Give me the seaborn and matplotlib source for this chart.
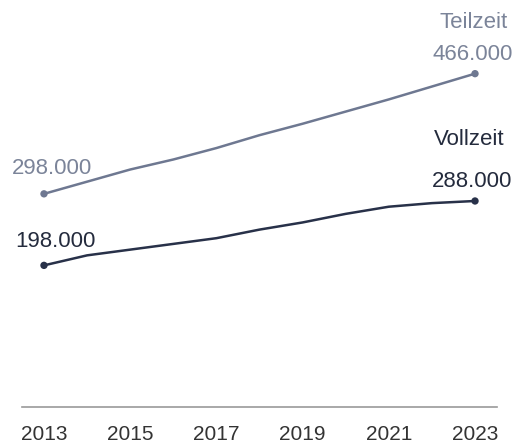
import pandas as pd
import matplotlib
matplotlib.use('Agg')
import matplotlib.pyplot as plt
import seaborn as sns

sns.set_theme(style="white")
plt.rcParams['font.family'] = ['Liberation Sans', 'DejaVu Sans']

# Data (employees)
years = [2013, 2014, 2015, 2016, 2017, 2018, 2019, 2020, 2021, 2022, 2023]
teilzeit = [298000, 315000, 332000, 346000, 362000, 380000, 396000, 413000, 430000, 448000, 466000]
vollzeit = [198000, 212000, 220000, 228000, 236000, 248000, 258000, 270000, 280000, 285000, 288000]
series_names = ['Teilzeit', 'Vollzeit']
tick_years = [2013, 2015, 2017, 2019, 2021, 2023]

LINE_COLORS = {'Teilzeit': '#6e7891', 'Vollzeit': '#283149'}
TEXT_COLORS = {'Teilzeit': '#7b8499', 'Vollzeit': '#242b3d'}

df = pd.DataFrame({
    'Jahr': years * 2,
    'Beschaeftigte': teilzeit + vollzeit,
    'Art': [series_names[0]] * len(years) + [series_names[1]] * len(years),
})

fig = plt.figure(figsize=(5.14, 4.43), dpi=100)
ax = fig.add_axes([22 / 514, 36 / 443, 475 / 514, 397 / 443])

sns.lineplot(data=df, x='Jahr', y='Beschaeftigte', hue='Art', palette=LINE_COLORS,
             linewidth=1.8, legend=False, ax=ax)

ends = df[df['Jahr'].isin([years[0], years[-1]])]
sns.scatterplot(data=ends, x='Jahr', y='Beschaeftigte', hue='Art', palette=LINE_COLORS,
                s=28, edgecolor='none', legend=False, ax=ax, zorder=3)


def fmt(v):
    return f"{v:,}".replace(',', '.')


# value labels at both ends, series names at the right end
label_offsets = {
    'Teilzeit': {'start': (6, 18), 'end': (-2, 14), 'name': (-1, 37)},
    'Vollzeit': {'start': (8, 17), 'end': (-2, 14), 'name': (-4, 44)},
}
for name, vals in zip(series_names, [teilzeit, vollzeit]):
    off = label_offsets[name]
    ax.annotate(fmt(vals[0]), (years[0], vals[0]), xytext=off['start'], textcoords='offset points',
                ha='center', va='center', fontsize=16, color=TEXT_COLORS[name])
    ax.annotate(fmt(vals[-1]), (years[-1], vals[-1]), xytext=off['end'], textcoords='offset points',
                ha='center', va='center', fontsize=16, color=TEXT_COLORS[name])
    ax.annotate(name, (years[-1], vals[-1]), xytext=off['name'], textcoords='offset points',
                ha='center', va='center', fontsize=16, color=TEXT_COLORS[name])

ax.set_xlim(2012.49, 2023.51)
ax.set_ylim(0, 555000)
ax.set_xticks(tick_years)
ax.set_xticklabels([str(y) for y in tick_years])
ax.set_yticks([])
ax.set_xlabel('')
ax.set_ylabel('')
ax.tick_params(axis='x', length=0, pad=13, labelsize=15, labelcolor='#333333')
for side in ['top', 'right', 'left']:
    ax.spines[side].set_visible(False)
ax.spines['bottom'].set_color('#9a9a9a')
ax.spines['bottom'].set_linewidth(1.2)
ax.set_facecolor('white')
fig.patch.set_facecolor('white')

fig.savefig('out.png', dpi=100)
plt.close(fig)
